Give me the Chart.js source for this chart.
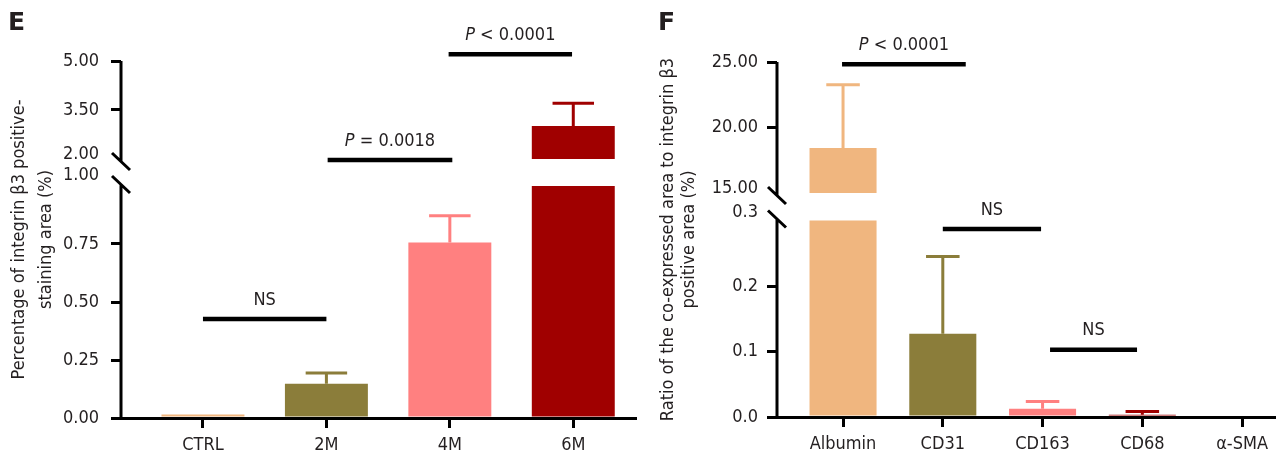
<!DOCTYPE html>
<html>
<head>
<meta charset="utf-8">
<script src="https://cdn.jsdelivr.net/npm/chart.js@4.4.1/dist/chart.umd.min.js"></script>
<style>
  body { margin: 0; background: #fff; }
  #wrap { position: relative; width: 1276px; height: 461px; overflow: hidden; }
  canvas { position: absolute; top: 0; }
  .letter { position: absolute; font: bold 25px "DejaVu Sans", sans-serif; line-height: 25px; color: #231f20; }
</style>
</head>
<body>
<div id="wrap">
  <canvas id="chartE" width="640" height="461" style="left:0"></canvas>
  <canvas id="chartF" width="636" height="461" style="left:640px"></canvas>
  <div class="letter" style="left:8px;top:9px">E</div>
  <div class="letter" style="left:658px;top:9px">F</div>
</div>
<script>
const FONT = '"DejaVu Sans Condensed", "DejaVu Sans", sans-serif';
const INK = '#231f20';

// panel E - integrin b3 positive area over time
const eCategories = ['CTRL', '2M', '4M', '6M'];
const eMeans = [0.015, 0.148, 0.756, 3.01];
const eErrors = [0, 0.046, 0.116, 0.70];
const eLowerTicks = [0, 0.25, 0.5, 0.75, 1];
const eUpperTicks = [2, 3.5, 5];
const eBrackets = [
  { from: 0, to: 1, y: 0.427, seg: 'low', label: 'NS' },
  { from: 1.01, to: 2.02, y: 1.97, seg: 'up', label: 'P = 0.0018' },
  { from: 1.99, to: 2.99, y: 5.21, seg: 'up', label: 'P < 0.0001' }
];

// panel F - co-expression ratio
const fCategories = ['Albumin', 'CD31', 'CD163', 'CD68', 'α-SMA'];
const fMeans = [18.44, 0.127, 0.0127, 0.0035, 0];
const fErrors = [4.83, 0.118, 0.011, 0.005, 0];
const fLowerTicks = [0, 0.1, 0.2, 0.3];
const fUpperTicks = [15, 20, 25];
const fBrackets = [
  { from: -0.01, to: 1.23, y: 24.83, seg: 'up', label: 'P < 0.0001' },
  { from: 1, to: 1.985, y: 0.287, seg: 'low', label: 'NS' },
  { from: 2.075, to: 2.947, y: 0.1026, seg: 'low', label: 'NS' }
];

const barColors = ['#f0b67f', '#8b7d3a', '#ff8080', '#a00000', '#a00000'];

// draws error bars, broken y axis and significance brackets
const decor = {
  id: 'decor',
  afterLayout(chart) {
    // upper segment axis shares the lower one's label column
    chart.scales.y2.left = chart.scales.y.left;
  },
  afterDatasetsDraw(chart, args, o) {
    const ctx = chart.ctx, x = chart.scales.x;
    const bars = chart.getDatasetMeta(0).data;
    ctx.save();
    ctx.lineWidth = 3;
    o.means.forEach((m, i) => {
      if (!o.errors[i]) return;
      const sc = m > o.upBottom ? chart.scales.y2 : chart.scales.y;
      const px = x.getPixelForValue(i);
      const y0 = sc.getPixelForValue(m), y1 = sc.getPixelForValue(m + o.errors[i]);
      const half = bars[i].width / 4;
      ctx.strokeStyle = barColors[i];
      ctx.beginPath();
      ctx.moveTo(px, y0); ctx.lineTo(px, y1);
      ctx.moveTo(px - half, y1); ctx.lineTo(px + half, y1);
      ctx.stroke();
    });
    ctx.restore();
  },
  afterDraw(chart, args, o) {
    const ctx = chart.ctx, x = chart.scales.x, lo = chart.scales.y, up = chart.scales.y2;
    const ax = chart.chartArea.left;
    const loEnd = lo.getPixelForValue(o.lowTop) - 1.5;
    const upEnd = up.getPixelForValue(o.upBottom) + 2.5;
    ctx.save();
    ctx.strokeStyle = '#000';
    ctx.lineWidth = 3;
    ctx.beginPath();
    ctx.moveTo(ax, lo.getPixelForValue(0) + 1.5); ctx.lineTo(ax, loEnd);
    ctx.moveTo(ax, up.getPixelForValue(up.max)); ctx.lineTo(ax, upEnd);
    [loEnd, upEnd].forEach(c => { ctx.moveTo(ax - 9, c - 8.5); ctx.lineTo(ax + 9, c + 8.5); });
    ctx.stroke();

    ctx.lineWidth = 4.5;
    ctx.fillStyle = INK;
    ctx.textBaseline = 'middle';
    o.brackets.forEach(b => {
      const sc = b.seg === 'low' ? lo : up;
      const py = sc.getPixelForValue(b.y);
      const x1 = x.getPixelForValue(b.from), x2 = x.getPixelForValue(b.to);
      ctx.beginPath();
      ctx.moveTo(x1, py); ctx.lineTo(x2, py);
      ctx.stroke();
      const cx = (x1 + x2) / 2, ty = py - 19;
      if (b.label.startsWith('P ')) {
        const rest = b.label.slice(1);
        ctx.font = 'italic 18px ' + FONT;
        const wP = ctx.measureText('P').width;
        ctx.font = '18px ' + FONT;
        const wR = ctx.measureText(rest).width;
        const sx = cx - (wP + wR) / 2;
        ctx.textAlign = 'left';
        ctx.font = 'italic 18px ' + FONT;
        ctx.fillText('P', sx, ty);
        ctx.font = '18px ' + FONT;
        ctx.fillText(rest, sx + wP, ty);
      } else {
        ctx.font = '18px ' + FONT;
        ctx.textAlign = 'center';
        ctx.fillText(b.label, cx, ty);
      }
    });
    ctx.restore();
  }
};

function makePanel(id, p) {
  const lowTop = p.lowerTicks[p.lowerTicks.length - 1];
  const upBottom = p.upperTicks[0];
  const upMax = p.upperTicks[p.upperTicks.length - 1];
  const h = p.bottom - p.top;
  const lowMax = lowTop * h / (p.bottom - p.lowTopPx);
  const upMin = upMax - (upMax - upBottom) * h / (p.upBottomPx - p.top);

  const tickFont = (brk, off) => ctx => ({
    family: FONT, size: 18,
    lineHeight: ctx.tick && ctx.tick.value === brk ? (2 * off) / 18 : 1.2
  });
  const tickGrid = brk => ({
    drawOnChartArea: false, drawTicks: true, tickLength: 10, lineWidth: 3,
    color: ctx => ctx.tick && ctx.tick.value === brk ? 'rgba(0,0,0,0)' : '#000'
  });

  new Chart(document.getElementById(id), {
    type: 'bar',
    data: {
      datasets: [
        {
          data: p.categories.map((c, i) => ({ x: i, y: Math.min(p.means[i], lowTop) })),
          yAxisID: 'y'
        },
        {
          data: p.categories.map((c, i) => ({ x: i, y: p.means[i] > upBottom ? [upBottom, p.means[i]] : null })),
          yAxisID: 'y2'
        }
      ].map(d => Object.assign(d, {
        backgroundColor: barColors, borderWidth: 0, grouped: false,
        barPercentage: 0.672, categoryPercentage: 1
      }))
    },
    options: {
      responsive: false,
      animation: false,
      layout: { padding: { top: p.top, right: p.padRight, left: 0, bottom: 0 } },
      plugins: {
        legend: { display: false },
        tooltip: { enabled: false },
        decor: { means: p.means, errors: p.errors, brackets: p.brackets, lowTop, upBottom }
      },
      scales: {
        x: {
          type: 'linear', min: p.xMin, max: p.xMax, z: 1, offset: false,
          afterBuildTicks: s => { s.ticks = p.categories.map((c, i) => ({ value: i })); },
          afterFit: s => { s.height = 461 - p.bottom; },
          ticks: { callback: v => p.categories[v], font: { family: FONT, size: 18 }, color: INK, padding: 7, autoSkip: false, maxRotation: 0 },
          grid: { offset: false, drawOnChartArea: false, drawTicks: true, tickLength: 10, lineWidth: 3, color: '#000' },
          border: { display: true, width: 3, color: '#000' }
        },
        y: {
          type: 'linear', position: 'left', weight: 1, min: 0, max: lowMax,
          afterBuildTicks: s => { s.ticks = p.lowerTicks.map(v => ({ value: v })); },
          afterFit: s => { s.width = p.axisWidth; },
          ticks: {
            callback: v => v === lowTop ? [v.toFixed(p.lowDec), ''] : v.toFixed(p.lowDec),
            font: tickFont(lowTop, p.lowLabelShift), color: INK, padding: p.tickPad, autoSkip: false
          },
          grid: tickGrid(lowTop),
          border: { display: false },
          title: {
            display: true, text: p.title, color: INK,
            font: { family: FONT, size: 18, lineHeight: p.titleLine / 18 },
            padding: { top: p.titlePad, bottom: 0 }
          }
        },
        y2: {
          type: 'linear', position: 'left', weight: 0, min: upMin, max: upMax,
          afterBuildTicks: s => { s.ticks = p.upperTicks.map(v => ({ value: v })); },
          afterFit: s => { s.width = 0; },
          ticks: {
            callback: v => v === upBottom ? [v.toFixed(2), ''] : v.toFixed(2),
            font: tickFont(upBottom, p.upLabelShift), color: INK, padding: p.tickPad, autoSkip: false
          },
          grid: tickGrid(upBottom),
          border: { display: false }
        }
      }
    },
    plugins: [decor]
  });
}

makePanel('chartE', {
  categories: eCategories, means: eMeans, errors: eErrors,
  lowerTicks: eLowerTicks, upperTicks: eUpperTicks, brackets: eBrackets,
  title: ['Percentage of integrin β3 positive-', 'staining area (%)'],
  top: 61, bottom: 418, lowTopPx: 186, upBottomPx: 159,
  axisWidth: 121, padRight: 5, xMin: -0.664, xMax: 3.5,
  tickPad: 12, lowDec: 2, lowLabelShift: 10.5, upLabelShift: 4.5,
  titleLine: 27, titlePad: 6
});

makePanel('chartF', {
  categories: fCategories, means: fMeans, errors: fErrors,
  lowerTicks: fLowerTicks, upperTicks: fUpperTicks, brackets: fBrackets,
  title: ['Ratio of the co-expressed area to integrin β3', 'positive area (%)'],
  top: 62, bottom: 417, lowTopPx: 220.5, upBottomPx: 193,
  axisWidth: 137, padRight: 0, xMin: -0.662, xMax: 4.34,
  tickPad: 9, lowDec: 1, lowLabelShift: 8.5, upLabelShift: 5,
  titleLine: 21, titlePad: 18
});
</script>
</body>
</html>
